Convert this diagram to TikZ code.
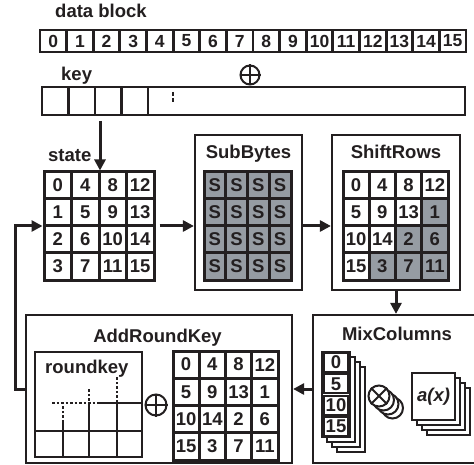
\documentclass[tikz,border=0pt]{standalone}
\usepackage{fontspec}
\setmainfont{Liberation Sans}
\usetikzlibrary{arrows.meta}
\definecolor{ink}{RGB}{35,31,32}
\definecolor{sgray}{RGB}{150,156,163}
\tikzset{
  txt/.style={font=\bfseries\fontsize{18.5}{18.5}\selectfont, text=ink},
  lbl/.style={txt, inner sep=0},
  gcell/.style={draw=ink, line width=3, inner sep=0, txt, fill=white},
  dcell/.style={draw=ink, line width=2.8, inner sep=0, fill=white,
     font=\bfseries\fontsize{17.5}{17.5}\selectfont, text=ink},
  bigbox/.style={draw=ink, line width=2.2, inner sep=0, fill=white},
  gridbox/.style={draw=ink, line width=3, inner sep=0},
  sheet/.style={draw=ink, line width=2.2, fill=white},
  arr/.style={draw=ink, line width=3, -{Triangle[length=11,width=11]}},
  xorc/.style={circle, draw=ink, line width=2, inner sep=0, fill=white},
  rkline/.style={draw=ink, line width=2.6},
  rkdash/.style={draw=ink, line width=2.6, dash pattern=on 2.5 off 2},
}
\begin{document}
\begin{tikzpicture}[x=1pt,y=-1pt]
\clip (0,0) rectangle (474,465);
\fill[white] (0,0) rectangle (474,465);

% ---------- data block ----------
\node[lbl, anchor=base west] (dlabel) at (55,18) {data block};
\foreach \i in {0,...,15}
  \node[dcell, minimum width=26.6, minimum height=22] (d\i) at ({40+26.625*(\i+0.5)},41) {\i};

% ---------- xor ----------
\node[xorc, minimum size=19] (x1) at (250,75) {};
\draw[ink, line width=2] (x1.north) -- (x1.south) (x1.west) -- (x1.east);

% ---------- key ----------
\node[lbl, anchor=base west] (klabel) at (61,81) {key};
\foreach \i in {0,...,3}
  \node[dcell, minimum width=26.5, minimum height=28] (k\i) at ({42+26.5*(\i+0.5)},101) {};
\node[dcell, minimum width=317, minimum height=28] (k4) at (306.5,101) {};
\coordinate (kmark) at (173,92);
\draw[ink, line width=2.2, dash pattern=on 4 off 2] (kmark) -- ++(0,10);

% ---------- state ----------
\node[lbl, anchor=base west] (slabel) at (48,162) {state};
\foreach \r in {0,...,3}{\foreach \c in {0,...,3}{
  \pgfmathtruncatemacro{\v}{\r+4*\c}
  \node[gcell, minimum width=27.5, minimum height=27] (st-\r-\c) at ({44+27.5*(\c+0.5)},{172+27*(\r+0.5)}) {\v};
}}
\node[gridbox, minimum width=110, minimum height=108] (st) at (99,226) {};

% ---------- SubBytes ----------
\node[bigbox, minimum width=107, minimum height=155] (sub) at (248.5,212.5) {};
\node[lbl, anchor=base] (subt) at (248.5,159) {SubBytes};
\foreach \r in {0,...,3}{\foreach \c in {0,...,3}{
  \node[gcell, fill=sgray, minimum width=21.75, minimum height=27] (sb-\r-\c) at ({204+21.75*(\c+0.5)},{172+27*(\r+0.5)}) {S};
}}

% ---------- ShiftRows ----------
\node[bigbox, minimum width=128, minimum height=155] (shift) at (396,212.5) {};
\node[lbl, anchor=base] (shiftt) at (396,159) {ShiftRows};
\foreach \r in {0,...,3}{\foreach \c in {0,...,3}{
  \pgfmathtruncatemacro{\v}{mod(\c+\r,4)*4+\r}
  \pgfmathtruncatemacro{\g}{(\c+\r>3)}
  \ifnum\g=1 \def\fc{sgray}\else\def\fc{white}\fi
  \node[gcell, fill=\fc, minimum width=26.25, minimum height=27] (sr-\r-\c) at ({343+26.25*(\c+0.5)},{172+27*(\r+0.5)}) {\v};
}}

% ---------- MixColumns ----------
\node[bigbox, minimum width=167, minimum height=148] (mix) at (396.5,389) {};
\node[lbl, anchor=base] (mixt) at (397,340) {MixColumns};
\foreach \k in {3,2,1}
  \draw[sheet] ({322+5*\k},{352+5*\k}) rectangle ({350+5*\k},{437+5*\k});
\node[draw=ink, line width=2.6, fill=white, inner sep=0, minimum width=28, minimum height=85] (mcol) at (336,394.5) {};
\foreach \v [count=\i from 0] in {0,5,10,15}
  \node[gcell, line width=2.2, minimum width=25, minimum height=19] (mc\i) at (336,{352+21.25*(\i+0.5)}) {\v};
\foreach \k in {3,2,1}
  \node[xorc, minimum size=21] (ob\k) at ({379+4.5*\k},{396+4*\k}) {};
\node[xorc, minimum size=21] (ot) at (379,396) {};
\draw[ink, line width=2] (ot.north east) -- (ot.south west) (ot.north west) -- (ot.south east);
\foreach \k in {3,2,1}
  \draw[sheet] ({412+5*\k},{373+5*\k}) rectangle ({455+5*\k},{420+5*\k});
\node[draw=ink, line width=2.2, fill=white, inner sep=0, minimum width=43, minimum height=47,
      font=\bfseries\itshape\fontsize{18.5}{18.5}\selectfont, text=ink] (ax) at (433.5,396.5) {a(x)};

% ---------- AddRoundKey ----------
\node[bigbox, minimum width=266, minimum height=148] (ark) at (159,389) {};
\node[lbl, anchor=base] (arkt) at (157.5,342) {AddRoundKey};
\node[draw=ink, line width=2.4, inner sep=0, minimum width=107, minimum height=105] (rk) at (88.5,404.5) {};
\node[lbl, anchor=base west] (rkl) at (45,373) {roundkey};
\draw[rkline] (35,431) -- (142,431);
\draw[rkline] (63,457) -- (63,422);
\draw[rkline] (89,457) -- (89,405);
\draw[rkline] (117,457) -- (117,402);
\draw[rkline] (100,403) -- (142,403);
\draw[rkdash] (63,422) -- (63,403);
\draw[rkdash] (89,405) -- (89,389);
\draw[rkdash] (117,402) -- (117,377);
\draw[rkdash] (52,403) -- (100,403);
\node[xorc, minimum size=21] (x2) at (156,405) {};
\draw[ink, line width=2] (x2.north) -- (x2.south) (x2.west) -- (x2.east);
\foreach \r in {0,...,3}{\foreach \c in {0,...,3}{
  \pgfmathtruncatemacro{\v}{mod(\c+\r,4)*4+\r}
  \node[gcell, minimum width=26.25, minimum height=27.25] (ak-\r-\c) at ({173+26.25*(\c+0.5)},{351+27.25*(\r+0.5)}) {\v};
}}

% ---------- connectors ----------
\coordinate (kdrop) at (100,121);
\draw[arr] (kdrop) -- (kdrop |- st.north);
\draw[arr, shorten <=4] (st.east) -- (st.east -| sub.west);
\draw[arr] (st.east -| sub.east) -- (st.east -| shift.west);
\draw[arr] (shift.south) -- (shift.south |- mix.north);
\draw[arr] (mix.west) -- (ark.east);
\coordinate (fb) at (15,0);
\draw[arr] (ark.west) -- (ark.west -| fb) -- (fb |- st.west) -- (st.west);
\end{tikzpicture}
\end{document}
